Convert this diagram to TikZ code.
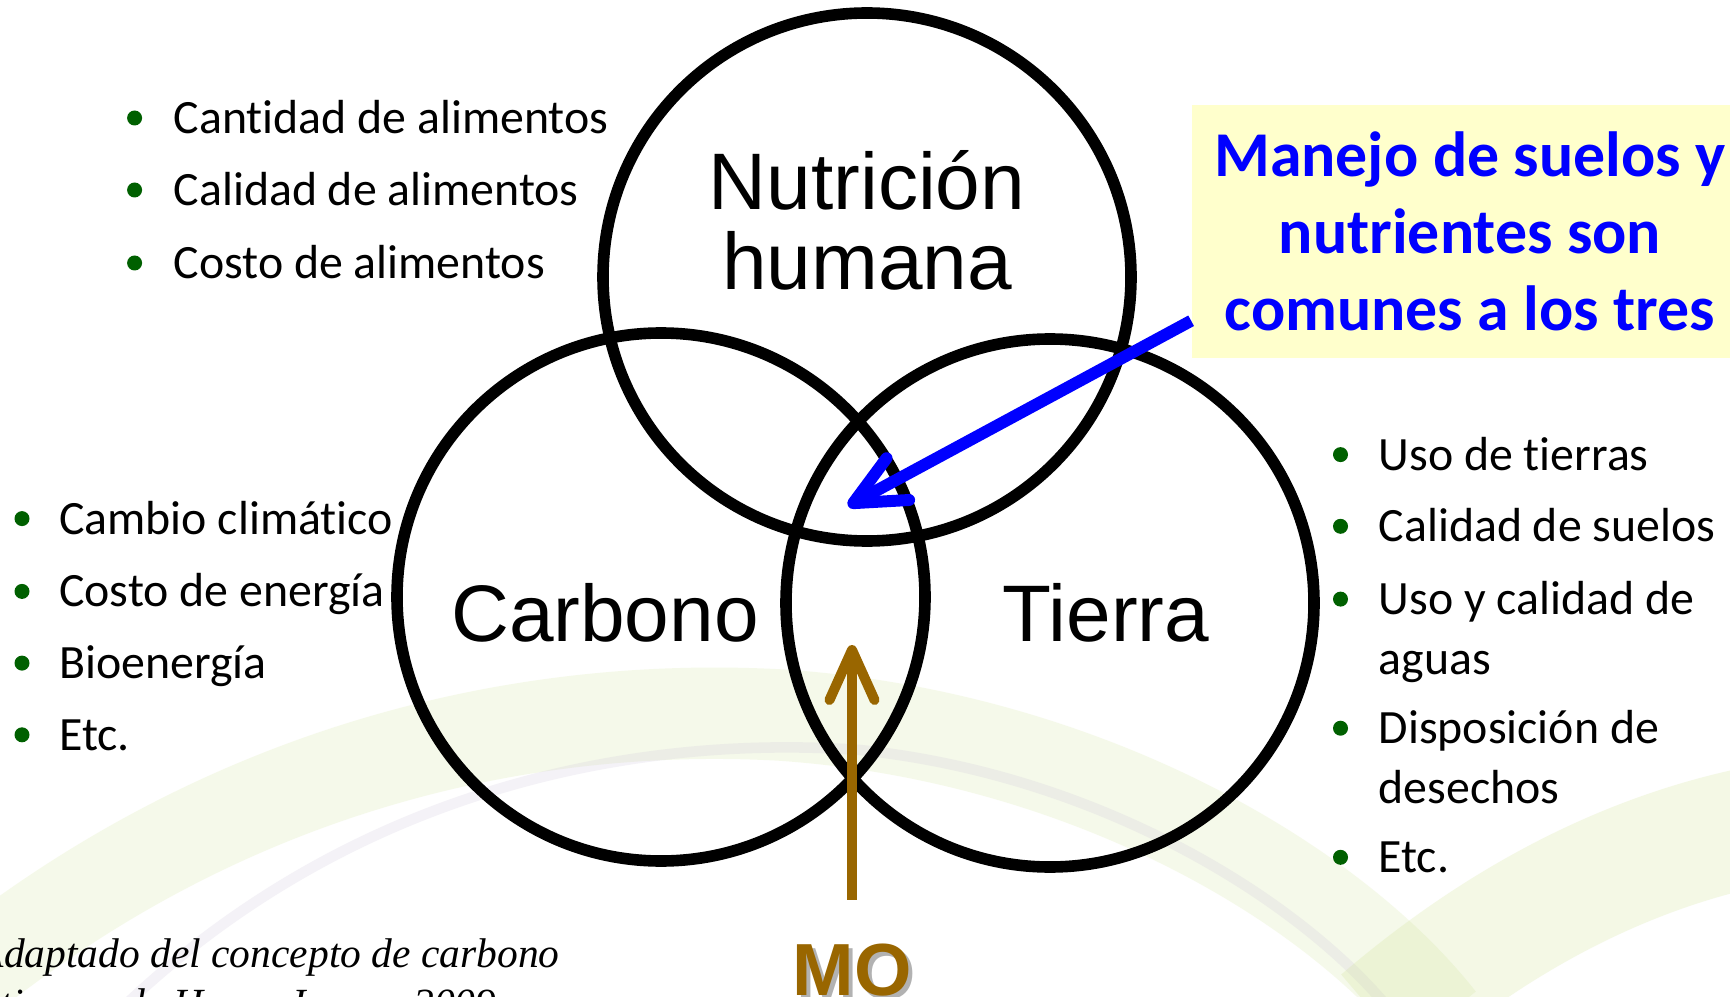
\documentclass[tikz,border=0pt]{standalone}
\usepackage{fontspec}
\setmainfont{Carlito}[Ligatures={TeX,NoCommon}]
\newfontfamily\arialfont{Liberation Sans}
\newfontfamily\timesfont{Liberation Serif}
\usetikzlibrary{arrows.meta,calc}
\definecolor{verdevin}{RGB}{0,96,0}
\definecolor{azulmanejo}{RGB}{0,0,255}
\definecolor{amarillocaja}{RGB}{255,255,204}
\definecolor{cafemo}{RGB}{153,102,0}
\definecolor{fondoverde}{RGB}{205,225,140}
\definecolor{fondolila}{RGB}{200,190,215}
\tikzset{
	circulo/.style={draw=black, line width=3.3pt},
	etiqueta/.style={font=\arialfont\fontsize{22.8}{22.8}\selectfont, inner sep=0pt, align=center},
	textolista/.style={anchor=base west, inner sep=0pt, align=left, font=\fontsize{13.6}{17}\selectfont},
	cajanota/.style={rectangle, fill=amarillocaja, inner sep=0pt, minimum width=5.56cm, minimum height=2.53cm, align=center, text=azulmanejo, font=\bfseries\fontsize{18.15}{21.9}\selectfont},
	flechaazul/.style={azulmanejo, line width=3.4pt, -{Straight Barb[length=14.4pt, width=13.5pt, round]}},
	flechamo/.style={cafemo, line width=2.85pt, -{Straight Barb[length=14.2pt, width=12.8pt, round]}},
	textomo/.style={font=\arialfont\bfseries\fontsize{21}{21}\selectfont, inner sep=0pt, anchor=base},
	textofuente/.style={font=\timesfont\itshape\fontsize{11.8}{12.5}\selectfont, inner sep=0pt, anchor=base west}
}

\begin{document}
\begin{tikzpicture}[x=0.01cm, y=-0.01cm]
	\useasboundingbox (0,0) rectangle (1730,997);
	\fill[white] (0,0) rectangle (1730,997);
	
	% fondo
	\draw[fondoverde, opacity=0.18, line width=26pt] (-60,1000) .. controls (200,780) and (500,700) .. (780,715) .. controls (1080,735) and (1330,880) .. (1440,1020);
	\draw[fondolila, opacity=0.2, line width=3pt] (120,1010) .. controls (360,780) and (650,735) .. (860,750) .. controls (1100,775) and (1300,900) .. (1390,1010);
	\draw[fondoverde, opacity=0.22, line width=34pt] (1380,1020) .. controls (1520,900) and (1660,840) .. (1790,820);
	
	% circulos
	\draw[circulo] (867,277) circle (264);
	\draw[circulo] (661,597) circle (264);
	\draw[circulo] (1050,603) circle (264);
	
	\node[etiqueta] (nutricion) at (867,220) {Nutrición\\humana};
	\node[etiqueta, anchor=base] (carbono) at (605,641) {Carbono};
	\node[etiqueta, anchor=base] (tierra) at (1106,641) {Tierra};
	
	% lista nutricion
	\fill[verdevin] (134.6,118) circle (7.5);
	\node[textolista] (cantidad) at (173,133.5) {Cantidad de alimentos};
	\fill[verdevin] (134.6,190) circle (7.5);
	\node[textolista] (calidad) at (173,205.5) {Calidad de alimentos};
	\fill[verdevin] (134.6,263) circle (7.5);
	\node[textolista] (costo) at (173,278.5) {Costo de alimentos};
	
	% lista carbono
	\fill[verdevin] (22,518.6) circle (7.5);
	\node[textolista] (cambio) at (58.5,534.1) {Cambio climático};
	\fill[verdevin] (22,591.4) circle (7.5);
	\node[textolista] (energia) at (58.5,606.9) {Costo de energía};
	\fill[verdevin] (22,663.1) circle (7.5);
	\node[textolista] (bioenergia) at (58.5,678.6) {Bioenergía};
	\fill[verdevin] (22,734.8) circle (7.5);
	\node[textolista] (etcc) at (58.5,750.3) {Etc.};
	
	% lista tierra (base = ultima linea)
	\fill[verdevin] (1340.5,454.6) circle (7.5);
	\node[textolista] (usotierras) at (1378,470.1) {Uso de tierras};
	\fill[verdevin] (1340.5,526.3) circle (7.5);
	\node[textolista] (suelos) at (1378,541.8) {Calidad de suelos};
	\fill[verdevin] (1340.5,599.1) circle (7.5);
	\node[textolista] (aguas) at (1378,674.6) {Uso y calidad de\\aguas};
	\fill[verdevin] (1340.5,728.2) circle (7.5);
	\node[textolista] (desechos) at (1378,803.7) {Disposición de\\desechos};
	\fill[verdevin] (1340.5,857.3) circle (7.5);
	\node[textolista] (etct) at (1378,872.8) {Etc.};
	
	% nota
	\node[cajanota] (caja) at (1470,231.5) {Manejo de suelos y\\nutrientes son\\comunes a los tres};
	\coordinate (puntaazul) at (848,506);
	\draw[flechaazul] ($(caja.south west)+(0,-38)$) -- (puntaazul);
	
	% MO
	\node[textomo, text=gray!60] (mosombra) at (856,999) {MO};
	\node[textomo, text=cafemo] (mo) at (852,995) {MO};
	\coordinate (centro) at (852,645);
	\draw[flechamo, shorten <=12.2pt] (mo.north) -- (centro);
	
	% fuente
	\node[textofuente] (fuente1) at (-22,967) {Adaptado del concepto de carbono};
	\node[textofuente] (fuente2) at (0,1017) {tiempo de Henry Janzen 2009};
\end{tikzpicture}
\end{document}
